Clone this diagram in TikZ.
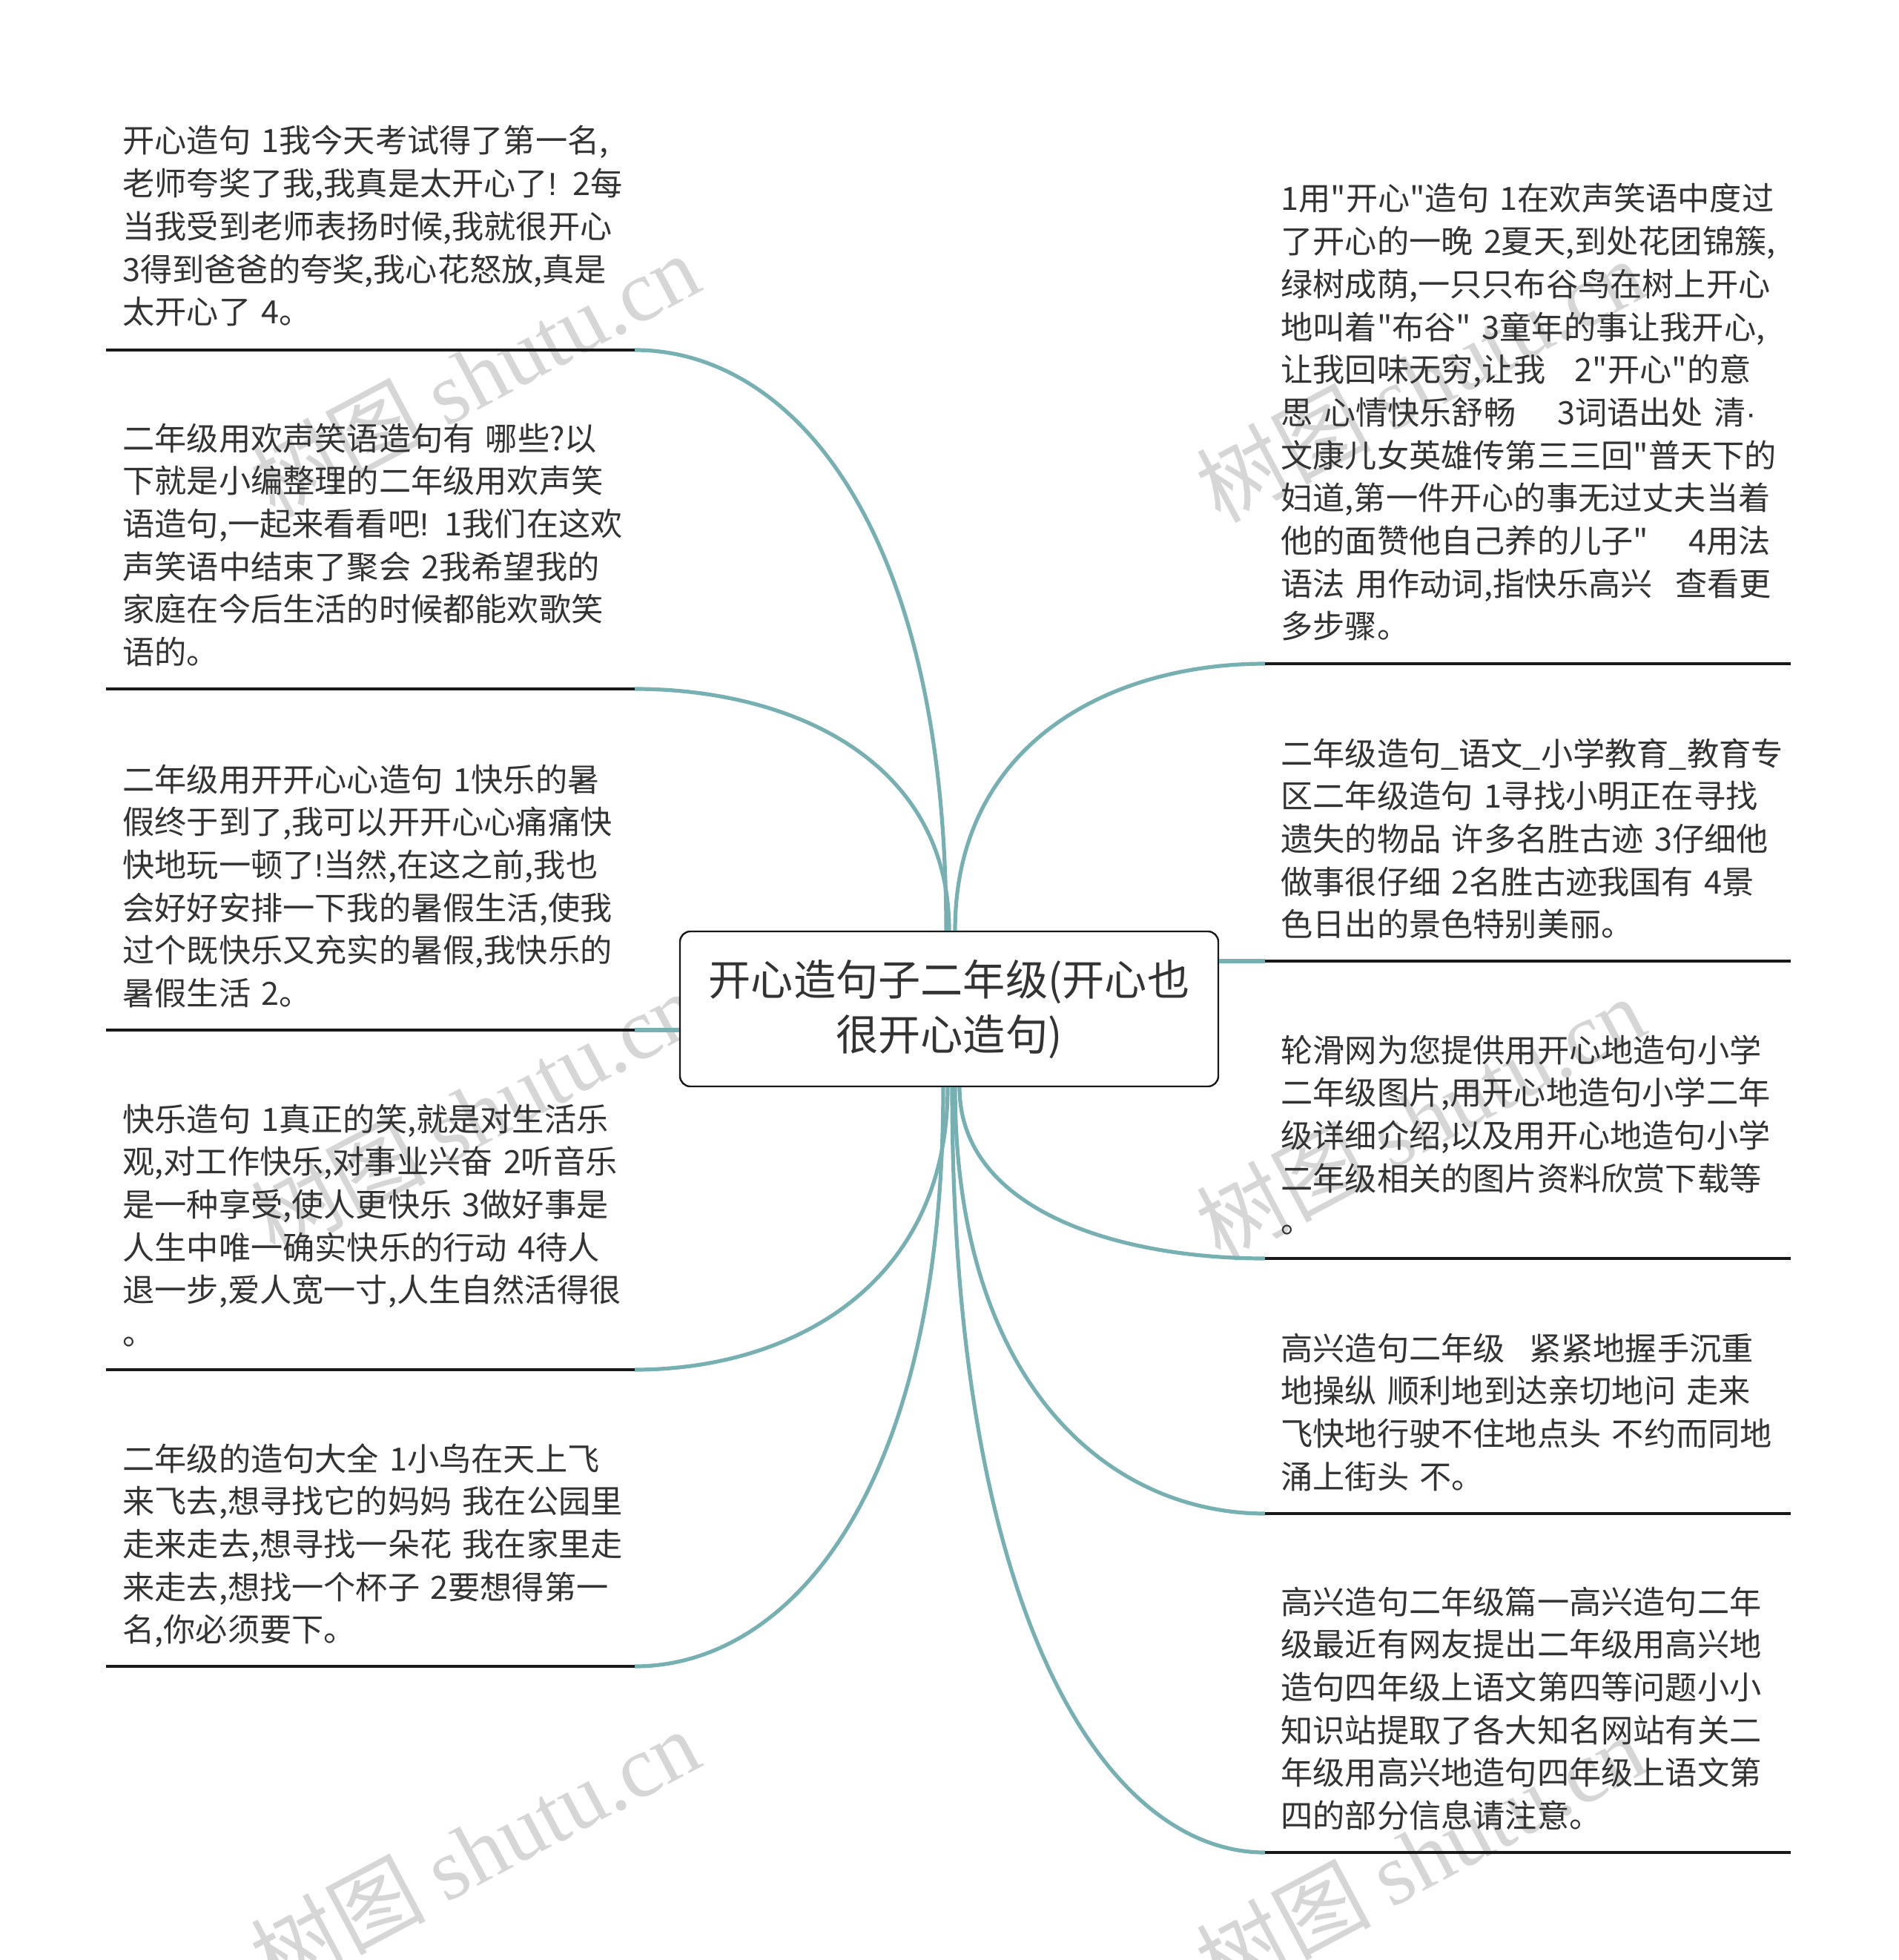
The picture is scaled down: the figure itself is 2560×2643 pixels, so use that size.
\documentclass[tikz,border=0pt]{standalone}
\usepackage{fontspec}
\setmainfont{Noto Sans CJK SC}[Ligatures=TeXOff]
\newfontfamily\wmlat{Liberation Serif}
\newfontfamily\latf{Liberation Sans}
\usetikzlibrary{calc}
\definecolor{teal1}{RGB}{118,176,178}
\definecolor{txt}{RGB}{51,51,51}
\definecolor{wmc}{RGB}{214,214,214}
\definecolor{uline}{RGB}{25,25,25}
\newcommand{\exc}{{\latf !}}
\tikzset{
  leaf/.style={anchor=base west, text width=365pt, align=left, inner sep=0pt, text=txt, font=\fontsize{21.6pt}{28.85pt}\selectfont},
  rootbox/.style={draw=uline, line width=1.2pt, rounded corners=7pt, fill=white, minimum width=363pt, minimum height=104.5pt, inner sep=0pt, align=center, text=txt, font=\fontsize{28.6pt}{37pt}\selectfont},
  conn/.style={draw=teal1, line width=2.6pt},
  underl/.style={draw=uline, line width=2pt},
  wm/.style={text=wmc, rotate=28, inner sep=0pt, font=\fontsize{59pt}{59pt}\selectfont},
}
\begin{document}
\begin{tikzpicture}[x=0.5pt, y=-0.5pt]
\path[fill=white, use as bounding box] (0,0) rectangle (2560,2643);

% watermarks
\node[wm] (wm1) at (640,505) {树图 {\wmlat shutu.cn}};
\node[wm] (wm2) at (640,1500) {树图 {\wmlat shutu.cn}};
\node[wm] (wm3) at (640,2495) {树图 {\wmlat shutu.cn}};
\node[wm] (wm4) at (1915,512) {树图 {\wmlat shutu.cn}};
\node[wm] (wm5) at (1915,1507) {树图 {\wmlat shutu.cn}};
\node[wm] (wm6) at (1915,2502) {树图 {\wmlat shutu.cn}};

% line ends
\coordinate (l1a) at (143,472);  \coordinate (l1b) at (856,472);
\coordinate (l2a) at (143,929);  \coordinate (l2b) at (856,929);
\coordinate (l3a) at (143,1389); \coordinate (l3b) at (856,1389);
\coordinate (l4a) at (143,1847); \coordinate (l4b) at (856,1847);
\coordinate (l5a) at (143,2247); \coordinate (l5b) at (856,2247);
\coordinate (r1a) at (1706,895);  \coordinate (r1b) at (2415,895);
\coordinate (r2a) at (1706,1296); \coordinate (r2b) at (2415,1296);
\coordinate (r3a) at (1706,1697); \coordinate (r3b) at (2415,1697);
\coordinate (r4a) at (1706,2041); \coordinate (r4b) at (2415,2041);
\coordinate (r5a) at (1706,2498); \coordinate (r5b) at (2415,2498);

% root
\node[rootbox] (root) at (1280,1360.5) {开心造句子二年级(开心也\\很开心造句)};

% connectors
\draw[conn] ([xshift=-2pt]root.north) .. controls +(0,-549) and +(210,0) .. (l1b);
\draw[conn] (root.north) .. controls +(0,-229) and +(212,0) .. (l2b);
\draw[conn] ([xshift=4pt]root.north) .. controls +(0,-253) and +(-209,0) .. (r1a);
\draw[conn] (l3b) -- (l3b -| root.west);
\draw[conn] (r2a) -- (r2a -| root.east);
\draw[conn] ([xshift=-1pt]root.south) .. controls +(0,267) and +(211,0) .. (l4b);
\draw[conn] ([xshift=-4pt]root.south) .. controls +(0,547) and +(208,0) .. (l5b);
\draw[conn] ([xshift=7pt]root.south) .. controls +(0,162) and +(-206,0) .. (r3a);
\draw[conn] ([xshift=4pt]root.south) .. controls +(0,403) and +(-209,0) .. (r4a);
\draw[conn] ([xshift=2pt]root.south) .. controls +(0,723) and +(-211,0) .. (r5a);

% underlines
\draw[underl] (l1a) -- (l1b);
\draw[underl] (l2a) -- (l2b);
\draw[underl] (l3a) -- (l3b);
\draw[underl] (l4a) -- (l4b);
\draw[underl] (l5a) -- (l5b);
\draw[underl] (r1a) -- (r1b);
\draw[underl] (r2a) -- (r2b);
\draw[underl] (r3a) -- (r3b);
\draw[underl] (r4a) -- (r4b);
\draw[underl] (r5a) -- (r5b);

% left texts
\node[leaf] (t1) at (165,206) {开心造句 1我今天考试得了第一名,\\老师夸奖了我,我真是太开心了\exc{} 2每\\当我受到老师表扬时候,我就很开心\\3得到爸爸的夸奖,我心花怒放,真是\\太开心了 4。};
\node[leaf] (t2) at (165,607) {二年级用欢声笑语造句有 哪些?以\\下就是小编整理的二年级用欢声笑\\语造句,一起来看看吧\exc{} 1我们在这欢\\声笑语中结束了聚会 2我希望我的\\家庭在今后生活的时候都能欢歌笑\\语的。};
\node[leaf] (t3) at (165,1067) {二年级用开开心心造句 1快乐的暑\\假终于到了,我可以开开心心痛痛快\\快地玩一顿了\exc{}当然,在这之前,我也\\会好好安排一下我的暑假生活,使我\\过个既快乐又充实的暑假,我快乐的\\暑假生活 2。};
\node[leaf] (t4) at (165,1525) {快乐造句 1真正的笑,就是对生活乐\\观,对工作快乐,对事业兴奋 2听音乐\\是一种享受,使人更快乐 3做好事是\\人生中唯一确实快乐的行动 4待人\\退一步,爱人宽一寸,人生自然活得很\\。};
\node[leaf] (t5) at (165,1983) {二年级的造句大全 1小鸟在天上飞\\来飞去,想寻找它的妈妈 我在公园里\\走来走去,想寻找一朵花 我在家里走\\来走去,想找一个杯子 2要想得第一\\名,你必须要下。};

% right texts
\node[leaf] (s1) at (1727,284) {1用"开心"造句 1在欢声笑语中度过\\了开心的一晚 2夏天,到处花团锦簇,\\绿树成荫,一只只布谷鸟在树上开心\\地叫着"布谷" 3童年的事让我开心,\\让我回味无穷,让我\hspace{0.9em}2"开心"的意\\思 心情快乐舒畅\hspace{1.3em}3词语出处 清{\latf ·}\\文康儿女英雄传第三三回"普天下的\\妇道,第一件开心的事无过丈夫当着\\他的面赞他自己养的儿子"\hspace{1.25em}4用法\\语法 用作动词,指快乐高兴\hspace{0.7em}查看更\\多步骤。};
\node[leaf] (s2) at (1727,1032) {二年级造句\_语文\_小学教育\_教育专\\区二年级造句 1寻找小明正在寻找\\遗失的物品 许多名胜古迹 3仔细他\\做事很仔细 2名胜古迹我国有 4景\\色日出的景色特别美丽。};
\node[leaf] (s3) at (1727,1432) {轮滑网为您提供用开心地造句小学\\二年级图片,用开心地造句小学二年\\级详细介绍,以及用开心地造句小学\\二年级相关的图片资料欣赏下载等\\。};
\node[leaf] (s4) at (1727,1834) {高兴造句二年级\hspace{0.75em}紧紧地握手沉重\\地操纵 顺利地到达亲切地问 走来\\飞快地行驶不住地点头 不约而同地\\涌上街头 不。};
\node[leaf] (s5) at (1727,2176) {高兴造句二年级篇一高兴造句二年\\级最近有网友提出二年级用高兴地\\造句四年级上语文第四等问题小小\\知识站提取了各大知名网站有关二\\年级用高兴地造句四年级上语文第\\四的部分信息请注意。};
\end{tikzpicture}
\end{document}
